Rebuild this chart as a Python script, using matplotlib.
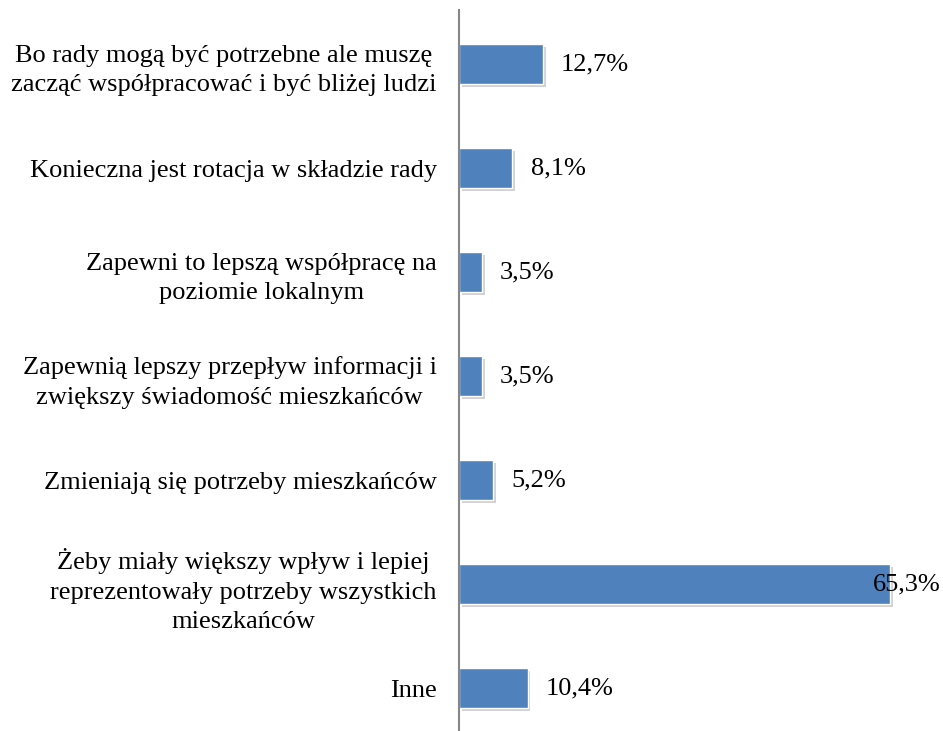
import matplotlib
matplotlib.use("Agg")
import matplotlib.pyplot as plt
import matplotlib.patheffects as pe
import numpy as np

categories = [
    "Bo rady mogą być potrzebne ale muszę\nzacząć współpracować i być bliżej ludzi",
    "Konieczna jest rotacja w składzie rady",
    "Zapewni to lepszą współpracę na\npoziomie lokalnym",
    "Zapewnią lepszy przepływ informacji i\nzwiększy świadomość mieszkańców",
    "Zmieniają się potrzeby mieszkańców",
    "Żeby miały większy wpływ i lepiej\nreprezentowały potrzeby wszystkich\nmieszkańców",
    "Inne",
]
values = [12.7, 8.1, 3.5, 3.5, 5.2, 65.3, 10.4]
value_labels = ["12,7%", "8,1%", "3,5%", "3,5%", "5,2%", "65,3%", "10,4%"]

plt.rcParams["font.family"] = ["Liberation Serif", "DejaVu Serif"]

fig = plt.figure(figsize=(9.43, 7.31), dpi=100)
ax = fig.add_axes([0.4867, 0.0, 0.5133, 0.986])

y = np.arange(len(categories))
bars = ax.barh(y, values, height=0.385, color="#4F81BD",
               edgecolor="white", linewidth=1.0)
for b in bars:
    b.set_path_effects([pe.SimplePatchShadow(offset=(2, -2), shadow_rgbFace="#808080",
                                             alpha=0.35), pe.Normal()])

xmax = 73.3
ax.set_xlim(0, xmax)
ax.set_ylim(len(categories) - 1 + 0.41, -0.52)

for i, (v, lab) in enumerate(zip(values, value_labels)):
    if v > 60:
        ax.annotate(lab, xy=(xmax, i), xytext=(-2, 0), textcoords="offset points",
                    ha="right", va="center", fontsize=19)
    else:
        ax.annotate(lab, xy=(v, i), xytext=(13, 0), textcoords="offset points",
                    ha="left", va="center", fontsize=19)

ax.set_yticks(y)
ax.set_yticklabels(categories, fontsize=19, linespacing=1.45,
                   multialignment="center")
ax.tick_params(axis="y", length=0, pad=16)
ax.set_xticks([])

for s in ["top", "right", "bottom"]:
    ax.spines[s].set_visible(False)
ax.spines["left"].set_color("#868686")
ax.spines["left"].set_linewidth(1.5)

fig.savefig("out.png", dpi=100)
